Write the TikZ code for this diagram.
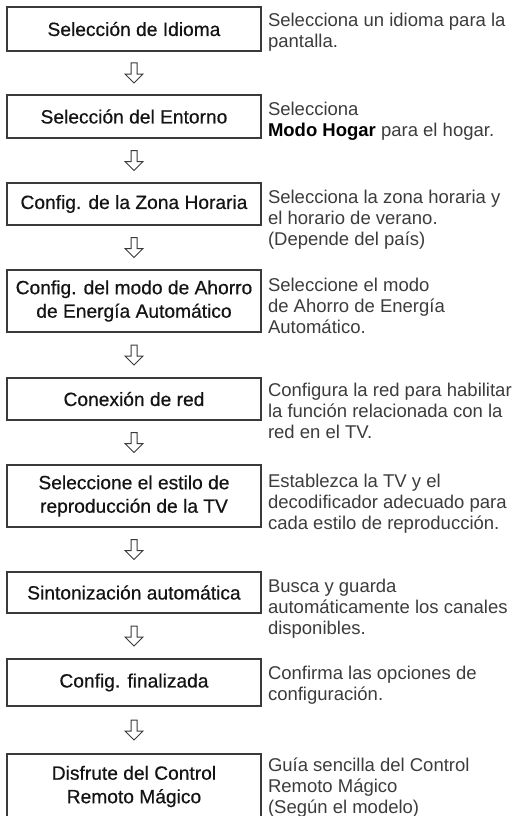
\documentclass[tikz,border=0pt]{standalone}
\usepackage{fontspec}
\setmainfont{Liberation Sans}
\newfontfamily\boxfont[FakeBold=0.5]{Liberation Sans}
\usetikzlibrary{calc}
\definecolor{boxline}{HTML}{3A3A3A}
\definecolor{boxtext}{HTML}{141414}
\definecolor{desctext}{HTML}{3C3C3C}
\tikzset{
  stepbox/.style={draw=boxline, line width=1.2pt, fill=white, minimum width=254pt,
    inner sep=0pt, outer sep=0pt, align=center, text=boxtext,
    font=\boxfont\fontsize{19.2}{23.5}\selectfont},
  desc/.style={anchor=north west, inner sep=0pt, outer sep=0pt, align=left,
    text=desctext, font=\fontsize{18.5}{21}\selectfont},
  downarrow/.style={draw=boxline, line width=1pt, fill=white, line join=miter}
}
\newcommand{\dstrut}{\rule{0pt}{18pt}}
\newcommand{\flowarrow}[2]{%
  \coordinate (m) at ($(#1.south)!0.5!(#2.north)$);
  \draw[downarrow] ($(m)+(-3,-10)$) -- ($(m)+(3,-10)$) -- ($(m)+(3,1)$) -- ($(m)+(9,1)$)
    -- ($(m)+(0,10)$) -- ($(m)+(-9,1)$) -- ($(m)+(-3,1)$) -- cycle;}
\begin{document}
\begin{tikzpicture}[x=1pt,y=-1pt]
\useasboundingbox (0,0) rectangle (513,816);
\fill[white] (0,0) rectangle (513,816);
% boxes
\node[stepbox, minimum height=44pt] (b1) at (134,29) {Selección de Idioma};
\node[stepbox, minimum height=43pt] (b2) at (134,116.5) {Selección del Entorno};
\node[stepbox, minimum height=42pt] (b3) at (134,204) {Config. de la Zona Horaria};
\node[stepbox, minimum height=62pt] (b4) at (134,301) {Config. del modo de Ahorro\\de Energía Automático};
\node[stepbox, minimum height=42pt] (b5) at (134,399) {Conexión de red};
\node[stepbox, minimum height=62pt] (b6) at (134,496) {Seleccione el estilo de\\reproducción de la TV};
\node[stepbox, minimum height=41pt] (b7) at (134,592.5) {Sintonización automática};
\node[stepbox, minimum height=47pt] (b8) at (134,682.5) {Config. finalizada};
\node[stepbox, minimum height=65pt] (b9) at (134,786.5) {Disfrute del Control\\Remoto Mágico};
% descriptions
\node[desc] (d1) at (268,9) {\dstrut Selecciona un idioma para la\\pantalla.};
\node[desc] (d2) at (268,97) {\dstrut Selecciona\\\textcolor{black}{\textbf{Modo Hogar}} para el hogar.};
\node[desc] (d3) at (268,185) {\dstrut Selecciona la zona horaria y\\el horario de verano.\\(Depende del país)};
\node[desc] (d4) at (268,273) {\dstrut Seleccione el modo\\de Ahorro de Energía\\Automático.};
\node[desc] (d5) at (268,378) {\dstrut Configura la red para habilitar\\la función relacionada con la\\red en el TV.};
\node[desc] (d6) at (268,469) {\dstrut Establezca la TV y el\\decodificador adecuado para\\cada estilo de reproducción.};
\node[desc] (d7) at (268,574) {\dstrut Busca y guarda\\automáticamente los canales\\disponibles.};
\node[desc] (d8) at (268,661) {\dstrut Confirma las opciones de\\configuración.};
\node[desc] (d9) at (268,753) {\dstrut Guía sencilla del Control\\Remoto Mágico\\(Según el modelo)};
% arrows
\flowarrow{b1}{b2}
\flowarrow{b2}{b3}
\flowarrow{b3}{b4}
\flowarrow{b4}{b5}
\flowarrow{b5}{b6}
\flowarrow{b6}{b7}
\flowarrow{b7}{b8}
\coordinate (b9top) at (134,754);
\flowarrow{b8}{b9top}
\end{tikzpicture}
\end{document}
